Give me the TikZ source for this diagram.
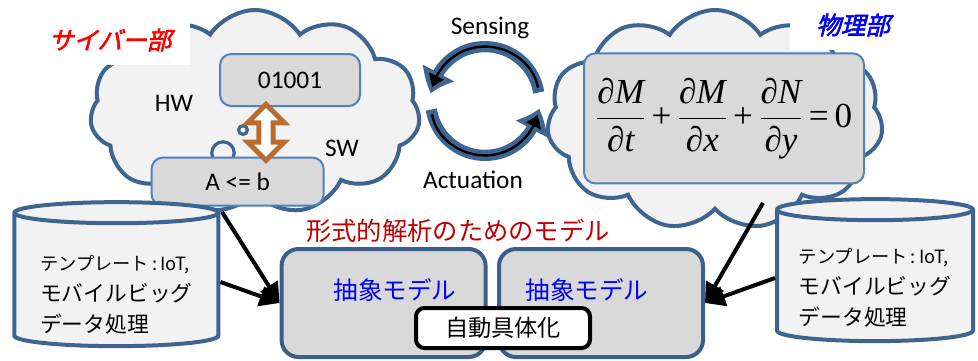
\documentclass[tikz,border=0pt]{standalone}
\usepackage{fontspec}
\setmainfont{Carlito}
\newfontfamily\jp{Noto Sans CJK JP}
\newfontfamily\jpbi[FakeSlant=0.25,FakeBold=2.5]{Noto Sans CJK JP}
\newfontfamily\eqfont{Liberation Serif}
\usepackage{tikz}
\usetikzlibrary{shapes.geometric, shapes.symbols, shapes.arrows, arrows.meta, bending}

\definecolor{cloudblue}{RGB}{62,100,146}
\definecolor{cloudgray}{RGB}{242,242,242}
\definecolor{boxgray}{RGB}{217,217,217}
\definecolor{boxedge}{RGB}{79,129,189}
\definecolor{modeledge}{RGB}{59,94,140}
\definecolor{arrowbrown}{RGB}{184,108,48}
\definecolor{darkred}{RGB}{192,0,0}

% partial derivative in Times-like italics
\newcommand{\dfrac}[2]{{\displaystyle\frac{#1}{#2}}}
\newcommand{\pd}[2]{\dfrac{\mbox{\eqfont\itshape ∂#1}}{\mbox{\eqfont\itshape ∂#2}}}
\newcommand{\eqplus}{\mbox{\eqfont\,+\,}}
% #1 = extra room above the first line
\newcommand{\templatetext}[1]{\rule{0pt}{#1}{\fontsize{13}{22}\selectfont テンプレート\,:\,IoT,}\\モバイルビッグ\\データ処理}

\begin{document}
\begin{tikzpicture}[
        cloudpart/.style={cloud, cloud puffs=11, cloud puff arc=115, cloud ignores aspect, draw=cloudblue, fill=cloudgray, line width=1mm},
        partlabel/.style={fill=white, minimum height=1.25cm, font=\jpbi\fontsize{17.5}{20}\selectfont},
        inner/.style={draw=boxedge, line width=0.5mm, rounded corners=8pt, fill=boxgray, font=\fontsize{18}{21}\selectfont},
        tag/.style={font=\fontsize{18}{21}\selectfont},
        db/.style={cylinder, shape border rotate=90, aspect=0.13, draw=cloudblue, fill=cloudgray, line width=1mm, align=left, font=\jp\fontsize{15.5}{22}\selectfont},
        model/.style={draw=modeledge, line width=1mm, rounded corners=12pt, fill=boxgray, minimum width=5.1cm, minimum height=2.7cm},
        jptext/.style={font=\jp\fontsize{17.5}{21}\selectfont},
        feed/.style={line width=1mm, -{Triangle[length=5mm,width=5mm]}},
        loopout/.style={cloudblue, line width=2.8mm, -{Triangle[length=5.5mm,width=8.5mm,bend]}},
        loopin/.style={black, line width=0.6mm, shorten <=1.2mm, shorten >=1.6mm, -{Triangle[length=3mm,width=4mm,bend]}}
    ]
        \useasboundingbox (0,0) rectangle (24.45,-9);
        % Clouds for the cyber part and the physical part
        \node[cloudpart, minimum width=8.25cm, minimum height=5.1cm] (cyber) at (6.375,-2.8) {};
        \node[cloudpart, minimum width=8.4cm, minimum height=5.5cm] (phys) at (17.875,-3.0) {};
        \node[partlabel, text=red, minimum width=4cm] (cyberlab) at (2.75,-1.0) {サイバー部};
        \node[partlabel, text=blue, minimum width=3.15cm] (physlab) at (21.325,-0.625) {物理部};
        % Thought bubbles
        \draw[cloudblue, line width=0.8mm, fill=cloudgray] (5.575,-3.825) circle (0.28);
        \draw[cloudblue, line width=0.8mm, fill=cloudgray] (6.075,-3.25) circle (0.11);
        \node[inner, minimum width=3.5cm, minimum height=1.3cm] (bits) at (7.25,-2.0) {01001};
        \node[inner, minimum width=4.3cm, minimum height=1.2cm] (code) at (5.94,-4.54) {A <= b};
        \node[tag] (hw) at (4.35,-2.575) {HW};
        \node[tag] (sw) at (8.55,-3.7) {SW};
        \node[double arrow, rotate=90, draw=arrowbrown, fill=white, line width=1.25mm, minimum height=1.4cm, minimum width=0.4cm, double arrow head extend=0.28cm] (hwsw) at (6.65,-3.31) {};
        \node[inner, minimum width=7cm, minimum height=3.25cm] (eq) at (18.1,-2.96) {\fontsize{25}{30}\selectfont $\pd{M}{t}\eqplus\pd{M}{x}\eqplus\pd{N}{y}\mbox{\eqfont\,=\,0}$};
        % Sensing / actuation loop
        \coordinate (cyc) at (12.125,-2.525);
        \draw[loopout] ([shift={(9:1.36)}]cyc) arc[start angle=9, end angle=172, radius=1.36];
        \draw[loopin] ([shift={(9:1.36)}]cyc) arc[start angle=9, end angle=172, radius=1.36];
        \draw[loopout] ([shift={(189:1.36)}]cyc) arc[start angle=189, end angle=352, radius=1.36];
        \draw[loopin] ([shift={(189:1.36)}]cyc) arc[start angle=189, end angle=352, radius=1.36];
        \node[tag] (sense) at (12.25,-0.7) {Sensing};
        \node[tag] (act) at (11.825,-4.5) {Actuation};
        % Templates
        \node[db, minimum width=5.1cm, minimum height=3.6cm] (leftdb) at (2.91,-7.05) {\templatetext{1.0cm}};
        \node[db, minimum width=4.9cm, minimum height=3.55cm] (rightdb) at (21.875,-6.95) {\templatetext{0.85cm}};
        % Models for formal analysis
        \node[jptext, text=darkred, font=\jp\fontsize{18}{21}\selectfont] (title) at (11.45,-5.775) {形式的解析のためのモデル};
        \node[model] (absL) at (9.59,-7.575) {};
        \node[model] (absR) at (15.025,-7.575) {};
        \node[jptext, text=blue] (absLtxt) at (9.875,-7.25) {抽象モデル};
        \node[jptext, text=blue] (absRtxt) at (14.675,-7.25) {抽象モデル};
        \node[draw, line width=1mm, rounded corners=6pt, fill=white, minimum width=4.35cm, minimum height=1cm, font=\jp\fontsize{16.5}{20}\selectfont] (auto) at (12.575,-8.2) {自動具体化};
        % Feeds into the models
        \coordinate (cyberout) at (5.55,-5.3);
        \coordinate (physout) at (19.075,-5.075);
        \draw[feed] (cyberout) -- (absL.west);
        \draw[feed] (leftdb.east) -- (absL.west);
        \draw[feed] (physout) -- (absR.east);
        \draw[feed] (rightdb.west) -- (absR.east);
    \end{tikzpicture}
\end{document}
